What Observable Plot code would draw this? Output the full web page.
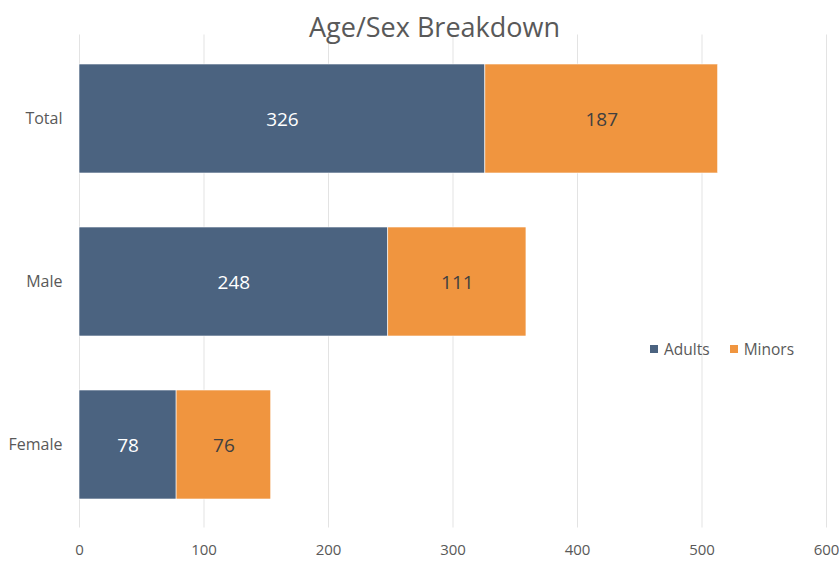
<!DOCTYPE html>
<html>
<head>
<meta charset="utf-8">
<script src="https://cdn.jsdelivr.net/npm/d3@7"></script>
<script src="https://cdn.jsdelivr.net/npm/@observablehq/plot@0.6"></script>
<style>
  html, body { margin: 0; padding: 0; background: #fff; }
  #wrap { position: relative; width: 839px; height: 562px; font-family: "Open Sans", sans-serif; }
  #title { position: absolute; left: 15px; top: 7px; width: 839px; text-align: center; font-size: 27px; color: #595959; line-height: 40px; z-index: 2; }
  #legend { position: absolute; left: 650px; top: 338px; font-size: 15.5px; color: #595959; display: flex; align-items: center; z-index: 2; }
  #legend .sw { display: inline-block; width: 8px; height: 8px; margin-right: 6px; }
  #legend .item { display: flex; align-items: center; margin-right: 20px; }
  #chart { position: absolute; left: 0; top: 0; }
</style>
</head>
<body>
<div id="wrap">
  <div id="title">Age/Sex Breakdown</div>
  <div id="chart"></div>
  <div id="legend"></div>
</div>
<script>
const categories = ["Total", "Male", "Female"];
const seriesNames = ["Adults", "Minors"];
const adults = [326, 248, 78];
const minors = [187, 111, 76];
const xTicks = [0, 100, 200, 300, 400, 500, 600];
const colors = ["#4b6380", "#f0953f"];
const labelColors = ["#ffffff", "#404040"];

const data = [];
categories.forEach((c, i) => {
  data.push({cat: c, series: "Adults", value: adults[i]});
  data.push({cat: c, series: "Minors", value: minors[i]});
});

const plot = Plot.plot({
  width: 839,
  height: 562,
  marginLeft: 79,
  marginRight: 13,
  marginTop: 34.5,
  marginBottom: 34.5,
  style: { fontFamily: "Open Sans, sans-serif", background: "transparent" },
  x: { domain: [0, 600], ticks: xTicks },
  y: { domain: categories, paddingInner: 0.333, paddingOuter: 0.175, label: null },
  color: { domain: seriesNames, range: colors },
  marks: [
    Plot.gridX(xTicks, { stroke: "#e3e3e3", strokeOpacity: 1, strokeWidth: 1 }),
    Plot.barX(data, Plot.stackX({ x: "value", y: "cat", fill: "series", order: seriesNames, stroke: "#ffffff", strokeWidth: 0.6 })),
    Plot.text(data, Plot.stackX({ x: "value", y: "cat", z: "series", order: seriesNames, text: d => String(d.value),
      fill: d => labelColors[seriesNames.indexOf(d.series)], fontSize: 19, dy: 1 })),
    Plot.axisX(xTicks, { tickSize: 0, tickPadding: 16, fontSize: 15, color: "#595959", label: null }),
    Plot.axisY({ tickSize: 0, tickPadding: 17, fontSize: 16, color: "#595959", label: null })
  ]
});
document.getElementById("chart").appendChild(plot);

const legend = document.getElementById("legend");
seriesNames.forEach((s, i) => {
  const it = document.createElement("span");
  it.className = "item";
  const sw = document.createElement("span");
  sw.className = "sw";
  sw.style.background = colors[i];
  it.appendChild(sw);
  it.appendChild(document.createTextNode(s));
  legend.appendChild(it);
});
</script>
</body>
</html>
